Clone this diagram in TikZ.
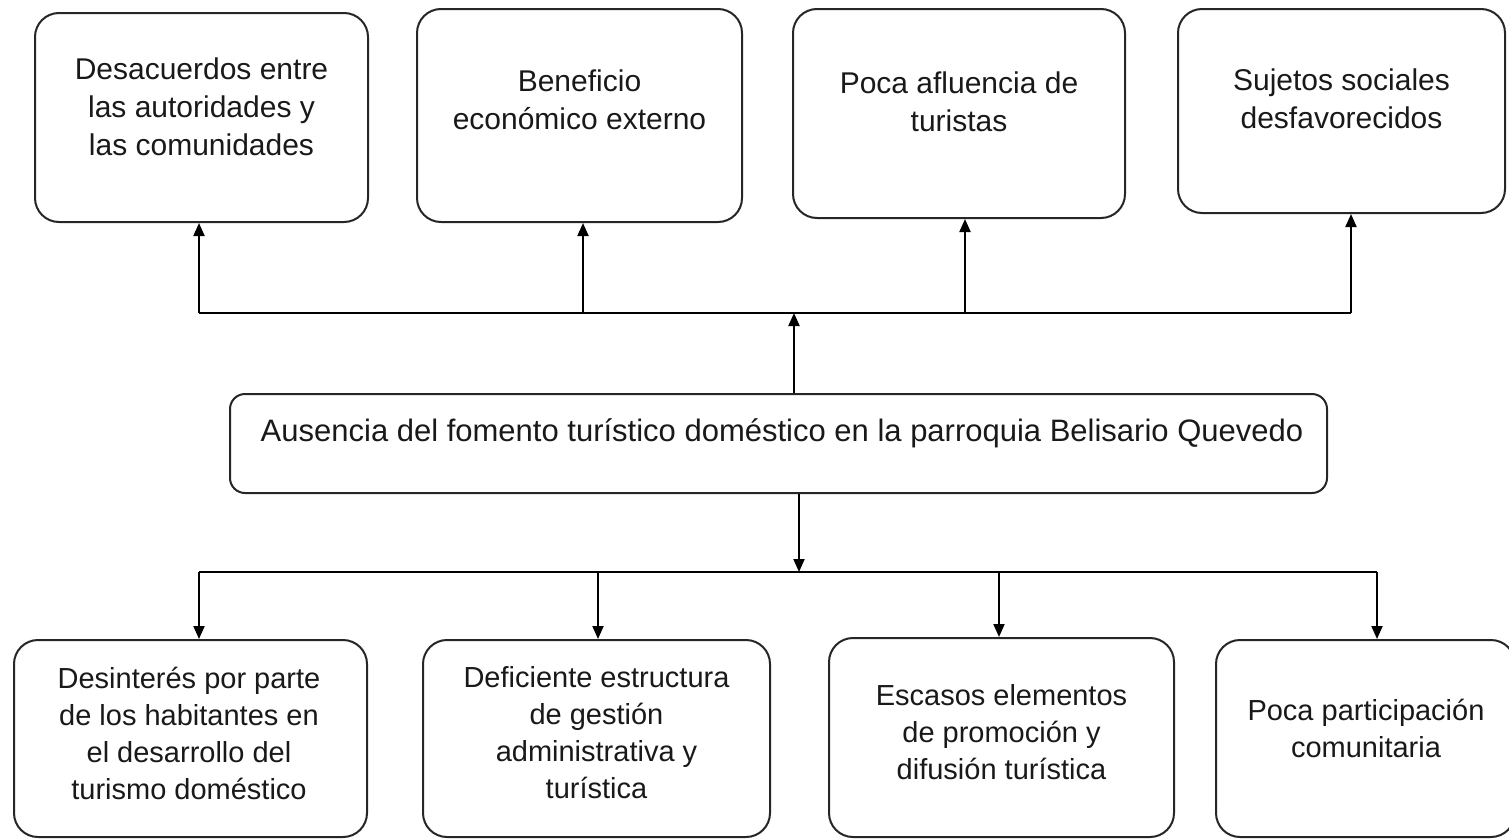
\documentclass[tikz,border=0pt]{standalone}
\usepackage{fontspec}
\setmainfont{Liberation Sans}
\usetikzlibrary{arrows.meta}
\begin{document}
\begin{tikzpicture}[x=1pt,y=-1pt,
  box/.style={draw=black!85, line width=2pt, rounded corners=24pt, inner sep=0pt},
  mbox/.style={draw=black!85, line width=2pt, rounded corners=15pt, inner sep=0pt},
  txt/.style={align=center, text=black!90, font=\fontsize{30}{38}\selectfont, inner sep=0pt},
  btxt/.style={align=center, text=black!90, font=\fontsize{29}{37}\selectfont, inner sep=0pt},
  mtxt/.style={align=center, text=black!90, font=\fontsize{31}{36}\selectfont, inner sep=0pt},
  arr/.style={line width=2pt, -{Triangle[length=13pt,width=11pt]}},
  ln/.style={line width=2pt}]
\useasboundingbox (0,0) rectangle (1509,838);
% top boxes
\node[box, minimum width=333pt, minimum height=209pt] (t1) at (201.5,117.5) {};
\node[txt] (t1x) at (201.5,107) {Desacuerdos entre\\las autoridades y\\las comunidades};
\node[box, minimum width=325pt, minimum height=213pt] (t2) at (579.5,115.5) {};
\node[txt] (t2x) at (579.5,100) {Beneficio\\económico externo};
\node[box, minimum width=332pt, minimum height=209pt] (t3) at (959,113.5) {};
\node[txt] (t3x) at (959,102) {Poca afluencia de\\turistas};
\node[box, minimum width=327pt, minimum height=204pt] (t4) at (1341.5,111) {};
\node[txt] (t4x) at (1341.5,99) {Sujetos sociales\\desfavorecidos};
% middle
\node[mbox, minimum width=1097pt, minimum height=99pt] (mid) at (778.5,443.5) {};
\node[mtxt] (midx) at (782,433) {Ausencia del fomento turístico doméstico en la parroquia Belisario Quevedo};
% bottom boxes
\node[box, minimum width=353pt, minimum height=197pt] (b1) at (190.5,738.5) {};
\node[btxt] (b1x) at (189,733) {Desinterés por parte\\de los habitantes en\\el desarrollo del\\turismo doméstico};
\node[box, minimum width=347pt, minimum height=197pt] (b2) at (596.5,738.5) {};
\node[btxt] (b2x) at (596.5,733) {Deficiente estructura\\de gestión\\administrativa y\\turística};
\node[box, minimum width=345pt, minimum height=199pt] (b3) at (1001.5,737.5) {};
\node[btxt] (b3x) at (1001.5,732) {Escasos elementos\\de promoción y\\difusión turística};
\node[box, minimum width=299pt, minimum height=197pt] (b4) at (1365.5,738.5) {};
\node[btxt] (b4x) at (1366,728) {Poca participación\\comunitaria};
% top bus
\coordinate (u1) at (199,313);
\coordinate (u2) at (583,313);
\coordinate (u3) at (965,313);
\coordinate (u4) at (1351,313);
\coordinate (m1) at (794,313);
\draw[ln] (u1) -- (u4);
\draw[arr] (u1) -- (u1 |- t1.south);
\draw[arr] (u2) -- (u2 |- t2.south);
\draw[arr] (u3) -- (u3 |- t3.south);
\draw[arr] (u4) -- (u4 |- t4.south);
\draw[arr] (m1 |- mid.north) -- (m1);
% bottom bus
\coordinate (d1) at (199,572);
\coordinate (d2) at (598,572);
\coordinate (d3) at (999,572);
\coordinate (d4) at (1377,572);
\coordinate (m2) at (799,572);
\draw[ln] (d1) -- (d4);
\draw[arr] (m2 |- mid.south) -- (m2);
\draw[arr] (d1) -- (d1 |- b1.north);
\draw[arr] (d2) -- (d2 |- b2.north);
\draw[arr] (d3) -- (d3 |- b3.north);
\draw[arr] (d4) -- (d4 |- b4.north);
\end{tikzpicture}
\end{document}
